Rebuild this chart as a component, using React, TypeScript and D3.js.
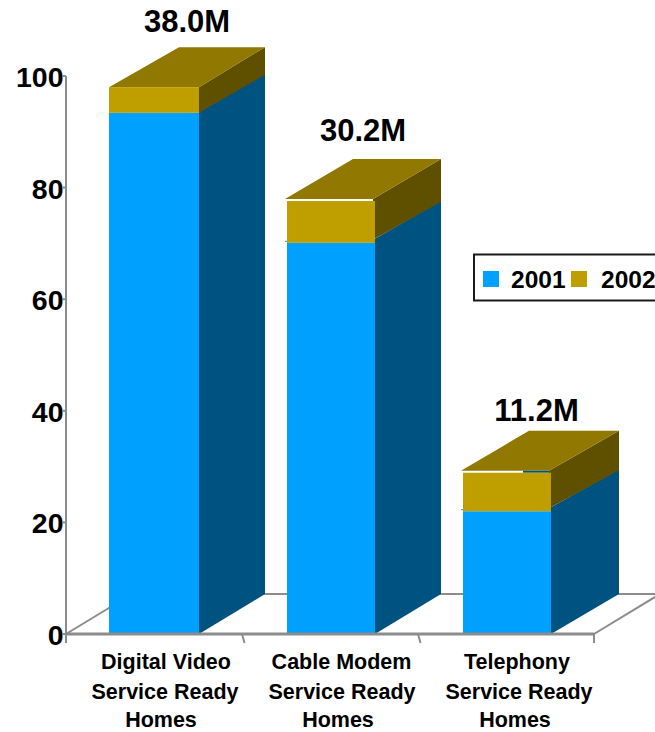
import React from "react";
import * as d3 from "d3";

const categories = ["Digital Video", "Cable Modem", "Telephony"];
const categorySuffix = ["Service Ready", "Homes"];
const values2001 = [93.4, 70.1, 22.0];
const values2002 = [4.6, 7.5, 6.9];
const totalLabels = ["38.0M", "30.2M", "11.2M"];
const yTicks = [0, 20, 40, 60, 80, 100];
const legendItems = ["2001", "2002"];

const WIDTH = 655;
const HEIGHT = 732;
const FONT = '"Liberation Sans", Arial, sans-serif';
const DEPTH_Y = 40;
const AXIS = "#8c8c8c";
const BLUE = "#00a0ff";
const BLUE_SIDE = "#005280";
const GOLD = "#bf9e00";
const GOLD_TOP = "#917800";
const GOLD_SIDE = "#5f5000";

const y = d3.scaleLinear().domain([0, 100]).range([634, 76]);
const x = d3.scaleBand<string>().domain(categories).range([67, 595]).paddingInner(0.5).paddingOuter(0.25);

const poly = (pts: [number, number][]) => d3.line()(pts) + "Z";

function Bar({ index }: { index: number }) {
  const name = categories[index];
  const band = x(name)!;
  // The two shorter bars have their cap nudged up and left of the front face;
  // the tallest one has a front face as wide as its cap.
  const shift = index === 0 ? 0 : 2;
  const depthX = index === 2 ? 68 : 66;
  const x0 = band - (2 - shift);
  const x1 = band + x.bandwidth();
  const yBase = y(0);
  const yBlue = y(values2001[index]);
  const yGold = y(values2001[index] + values2002[index]);
  const capTop = yGold - shift;
  const sideFront = yBlue - shift * 1.5;
  return (
    <g>
      <path d={poly([[x1, yBase], [x1 + depthX, yBase - DEPTH_Y], [x1 + depthX, sideFront - 39], [x1, sideFront - 1]])} fill={BLUE_SIDE} />
      <path d={poly([[x1 - shift, capTop], [x1 + depthX, capTop - DEPTH_Y], [x1 + depthX, sideFront - 38], [x1 - shift, sideFront]])} fill={GOLD_SIDE} />
      <path d={poly([[x0 - shift, capTop], [x1 - shift, capTop], [x1 + depthX, capTop - DEPTH_Y], [x0 + 70 - 2 * shift, capTop - DEPTH_Y]])} fill={GOLD_TOP} />
      {shift > 0 && <rect x={x0 - shift} y={yBlue - 2} width={shift} height={1} fill={BLUE} />}
      {index === 2 && <rect x={x1 - 28} y={yGold - 2} width={26} height={2} fill={BLUE_SIDE} />}
      <rect x={x0} y={yBlue} width={x1 - x0} height={yBase - yBlue} fill={BLUE} />
      <rect x={x0} y={yGold} width={x1 - x0} height={yBlue - yGold} fill={GOLD} />
    </g>
  );
}

export default function App() {
  const yBase = y(0);
  const step = x.step();
  const xLeft = 66;
  const xRight = xLeft + step * 3;
  const tickXs = d3.range(4).map((i) => xLeft + step * i);
  return (
    <svg width={WIDTH} height={HEIGHT} viewBox={`0 0 ${WIDTH} ${HEIGHT}`} style={{ position: "absolute", left: 0, top: 0, display: "block" }} fontFamily={FONT} fontWeight="bold">
      <rect width={WIDTH} height={HEIGHT} fill="#fff" />

      {/* floor outline */}
      <g stroke={AXIS} fill="none" strokeWidth={2}>
        <line x1={xLeft} y1={yBase} x2={xLeft + 66} y2={yBase - DEPTH_Y} />
        <line x1={xLeft + 66} y1={yBase - DEPTH_Y} x2={WIDTH} y2={yBase - DEPTH_Y} />
        <line x1={xRight} y1={yBase} x2={xRight + 66} y2={yBase - DEPTH_Y} />
      </g>

      {categories.map((c, i) => <Bar key={c} index={i} />)}

      {/* axes */}
      <g stroke={AXIS} fill="none" strokeWidth={2}>
        <line x1={xLeft} y1={y(100)} x2={xLeft} y2={yBase + 8} />
        <line x1={xLeft} y1={yBase} x2={xRight} y2={yBase} strokeWidth={3} />
        {yTicks.map((t) => <line key={t} x1={xLeft - 3} y1={y(t)} x2={xLeft} y2={y(t)} />)}
        {tickXs.map((tx, i) => (
          <line key={i} x1={tx} y1={yBase} x2={i === 0 || i === 3 ? tx : tx + 2.5} y2={yBase + 9} />
        ))}
      </g>

      {yTicks.map((t) => (
        <text key={t} x={63.5} y={y(t) + 11} textAnchor="end" fontSize={28.5} fill="#000">{t}</text>
      ))}

      {categories.map((c, i) => {
        const cx = 165 + i * 177;
        return (
          <g key={c} textAnchor="middle" fontSize={21.5} fill="#000">
            <text x={166 + i * 175.5} y={668.7}>{c}</text>
            <text x={cx} y={698.7}>{categorySuffix[0]}</text>
            <text x={cx - 4} y={727.3}>{categorySuffix[1]}</text>
          </g>
        );
      })}

      {totalLabels.map((l, i) => {
        const center = x(categories[i])! + x.bandwidth() / 2;
        const top = y(values2001[i] + values2002[i]);
        const gap = [55, 60, 52][i];
        return (
          <text key={l} x={center + (i === 2 ? 29.5 : 32)} y={top - gap} textAnchor="middle" fontSize={31} fill="#000">{l}</text>
        );
      })}

      {/* legend */}
      <rect x={474} y={254.5} width={190} height={46} fill="#fff" stroke="#1a1a1a" strokeWidth={2} />
      {legendItems.map((l, i) => (
        <g key={l}>
          <rect x={483 + i * 88} y={271} width={16} height={16} fill={i === 0 ? BLUE : GOLD} />
          <text x={511 + i * 90} y={288} fontSize={24.5} fill="#000">{l}</text>
        </g>
      ))}
    </svg>
  );
}
